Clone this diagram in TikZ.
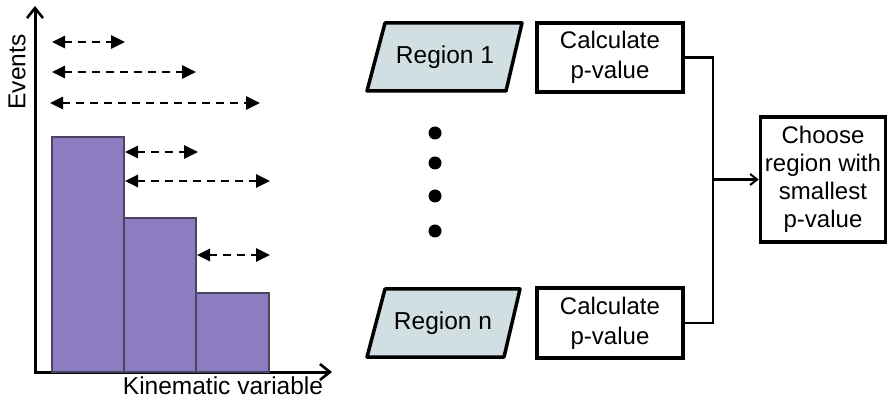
\documentclass[tikz,border=0pt]{standalone}
\usepackage{fontspec}
\setmainfont{Liberation Sans}
\usetikzlibrary{arrows.meta}
\definecolor{barfill}{HTML}{8C7DC0}
\definecolor{barline}{HTML}{4A4460}
\definecolor{regionfill}{HTML}{D1DEE2}
\begin{document}
\begin{tikzpicture}[x=1pt,y=-1pt,
  lbl/.style={font=\fontsize{24.5}{28}\selectfont},
  axis/.style={line width=3pt,-{Straight Barb[length=10pt,width=16pt,line width=2.6pt]}},
  bar/.style={fill=barfill,draw=barline,line width=1.2pt},
  span/.style={line width=2.6pt,dash pattern=on 8pt off 6pt,
    {Triangle[length=13pt,width=12pt]}-{Triangle[length=14pt,width=13pt]}},
  box/.style={draw,line width=3.5pt,align=center,inner sep=0pt,
    font=\fontsize{24}{30}\selectfont},
  region/.style={draw,line width=3.5pt,fill=regionfill,line join=round},
  link/.style={line width=2.6pt},
  dotmark/.style={fill=black}]
\useasboundingbox (0,0) rectangle (889,403);

% histogram axes
\draw[axis] (35,373) -- (35,6);
\draw[axis] (33.5,372) -- (332,372);
\node[lbl,rotate=90] (ylab) at (17,72) {Events};
\node[lbl] (xlab) at (223,386) {Kinematic variable};

% bins
\draw[bar] (52,372) rectangle (124,137);
\draw[bar] (124,372) rectangle (196,218);
\draw[bar] (196,372) rectangle (269,293);

% sliding windows
\draw[span] (52,42) -- (125,42);
\draw[span] (52,72) -- (196,72);
\draw[span] (50,103) -- (260,103);
\draw[span] (125,152) -- (198,152);
\draw[span] (125,181) -- (270,181);
\draw[span] (197,255) -- (270,255);

% input regions
\draw[region] (385,23) -- (522,23) -- (506,91) -- (367,91) -- cycle;
\node[lbl] (r1) at (445,57) {Region 1};
\draw[region] (385,289) -- (520,289) -- (504,357) -- (367,357) -- cycle;
\node[lbl] (rn) at (443,323) {Region n};

% ellipsis dots
\fill[dotmark] (435,133) circle (6.5);
\fill[dotmark] (435,163) circle (6.5);
\fill[dotmark] (435,196) circle (6.5);
\fill[dotmark] (435,231) circle (6.5);

% p-value steps
\node[box,minimum width=146pt,minimum height=69pt] (c1) at (610,57.5) {Calculate\\p-value};
\node[box,minimum width=146pt,minimum height=70pt] (cn) at (610,323) {Calculate\\p-value};
\node[box,minimum width=125pt,minimum height=125pt] (ch) at (823,179.5)
  {Choose\\[-2pt]region with\\[-2pt]smallest\\[-2pt]p-value};

% merge into decision
\coordinate (bus) at (713,0);
\draw[link] (c1.east) -- (c1.east -| bus) -- (cn.east -| bus) -- (cn.east);
\draw[link,-{Straight Barb[length=7pt,width=11pt,line width=2pt]}] (bus |- ch.west) -- (ch.west);
\end{tikzpicture}
\end{document}
